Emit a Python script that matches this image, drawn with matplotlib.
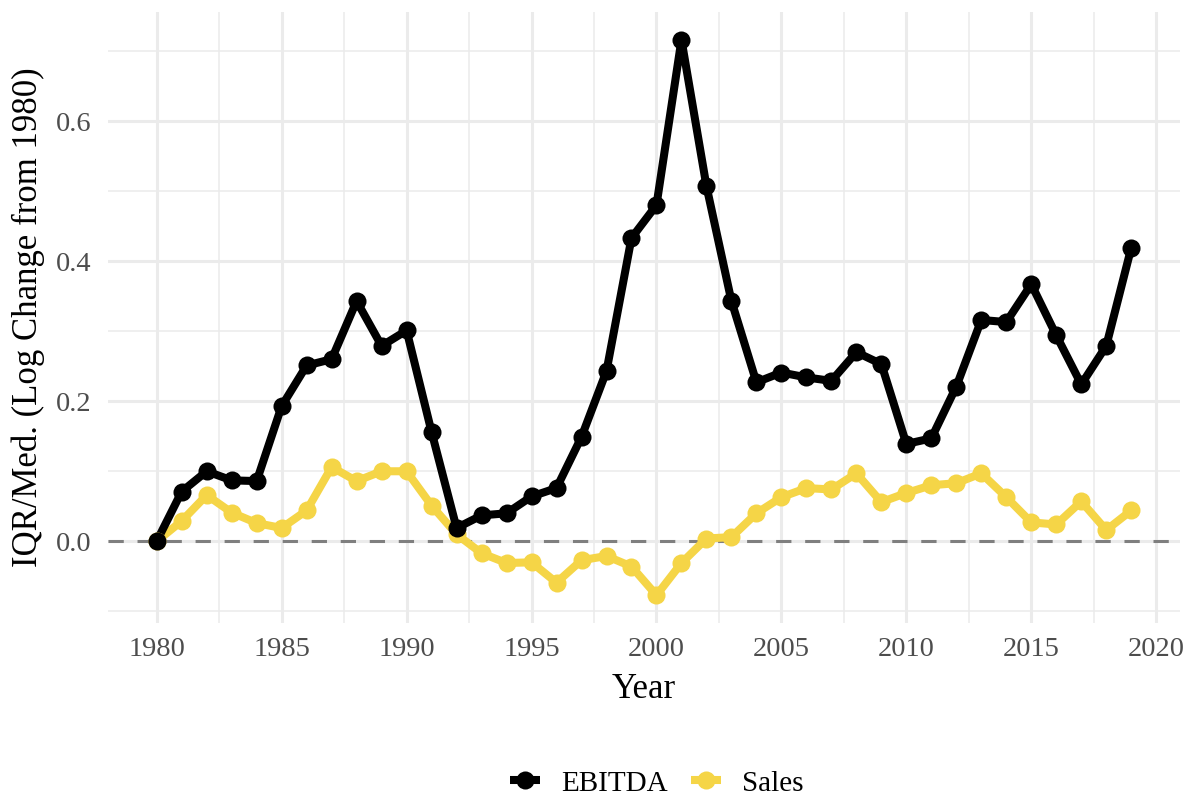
import numpy as np
import matplotlib.pyplot as plt
from matplotlib.ticker import MultipleLocator
from matplotlib.lines import Line2D

years = np.arange(1980, 2020)

ebitda = [0.000, 0.071, 0.100, 0.087, 0.086, 0.193, 0.251, 0.260, 0.343, 0.279,
          0.301, 0.156, 0.019, 0.037, 0.040, 0.064, 0.076, 0.149, 0.243, 0.433,
          0.480, 0.716, 0.507, 0.343, 0.227, 0.241, 0.234, 0.229, 0.270, 0.253,
          0.139, 0.147, 0.221, 0.316, 0.313, 0.367, 0.294, 0.224, 0.279, 0.419]

sales = [0.000, 0.029, 0.066, 0.041, 0.026, 0.019, 0.044, 0.106, 0.086, 0.100,
         0.100, 0.051, 0.010, -0.017, -0.031, -0.030, -0.059, -0.027, -0.021, -0.036,
         -0.077, -0.031, 0.004, 0.006, 0.040, 0.063, 0.076, 0.074, 0.097, 0.056,
         0.069, 0.080, 0.083, 0.097, 0.063, 0.027, 0.024, 0.057, 0.016, 0.044]

series_names = ['EBITDA', 'Sales']
series_colors = ['#000000', '#F5D547']

plt.rcParams['font.family'] = ['Liberation Serif', 'DejaVu Serif']

fig = plt.figure(figsize=(11.96, 8.01), dpi=100)
ax = fig.add_axes([0.0903, 0.2222, 0.8963, 0.7628])

grid_col = '#ebebeb'
ax.set_axisbelow(True)
ax.xaxis.set_major_locator(MultipleLocator(5))
ax.xaxis.set_minor_locator(MultipleLocator(2.5))
ax.yaxis.set_major_locator(MultipleLocator(0.2))
ax.yaxis.set_minor_locator(MultipleLocator(0.1))
ax.grid(which='major', color=grid_col, linewidth=2.2)
ax.grid(which='minor', color=grid_col, linewidth=1.1)

ax.axhline(0, color='#7f7f7f', linewidth=2.2, linestyle=(0, (5, 4.5)), zorder=2)

data = [ebitda, sales]
# lines first (sales under ebitda), then points
for i in [1, 0]:
    ax.plot(years, data[i], color=series_colors[i], linewidth=5.8,
            solid_joinstyle='round', solid_capstyle='round', zorder=3)
for i in [1, 0]:
    ax.plot(years, data[i], linestyle='none', marker='o', markersize=13,
            color=series_colors[i], markeredgewidth=0, zorder=4)

y_min = min(min(ebitda), min(sales))
y_max = max(max(ebitda), max(sales))
y_pad = (y_max - y_min) * 0.05
ax.set_ylim(y_min - y_pad, y_max + y_pad)
x_pad = (years[-1] - years[0]) * 0.05
ax.set_xlim(years[0] - x_pad, years[-1] + x_pad)

for s in ax.spines.values():
    s.set_visible(False)
ax.tick_params(which='both', length=0)
ax.tick_params(axis='x', labelsize=20.5, labelcolor='#4d4d4d', pad=10)
ax.tick_params(axis='y', labelsize=20.5, labelcolor='#4d4d4d', pad=12)
ax.yaxis.set_major_formatter(plt.FuncFormatter(lambda v, p: f'{v:.1f}'))

ax.set_xlabel('Year', fontsize=25, labelpad=8)
ax.set_ylabel('IQR/Med. (Log Change from 1980)', fontsize=25, labelpad=8)

handles = [Line2D([0], [0], color=c, linewidth=5.8, marker='o', markersize=13,
                  markeredgewidth=0, solid_capstyle='butt') for c in series_colors]
fig.legend(handles, series_names, loc='center', bbox_to_anchor=(0.549, 0.022),
           ncol=2, frameon=False, fontsize=21, handlelength=1.05,
           columnspacing=0.8, handletextpad=0.7)

fig.savefig('out.png', dpi=100)
